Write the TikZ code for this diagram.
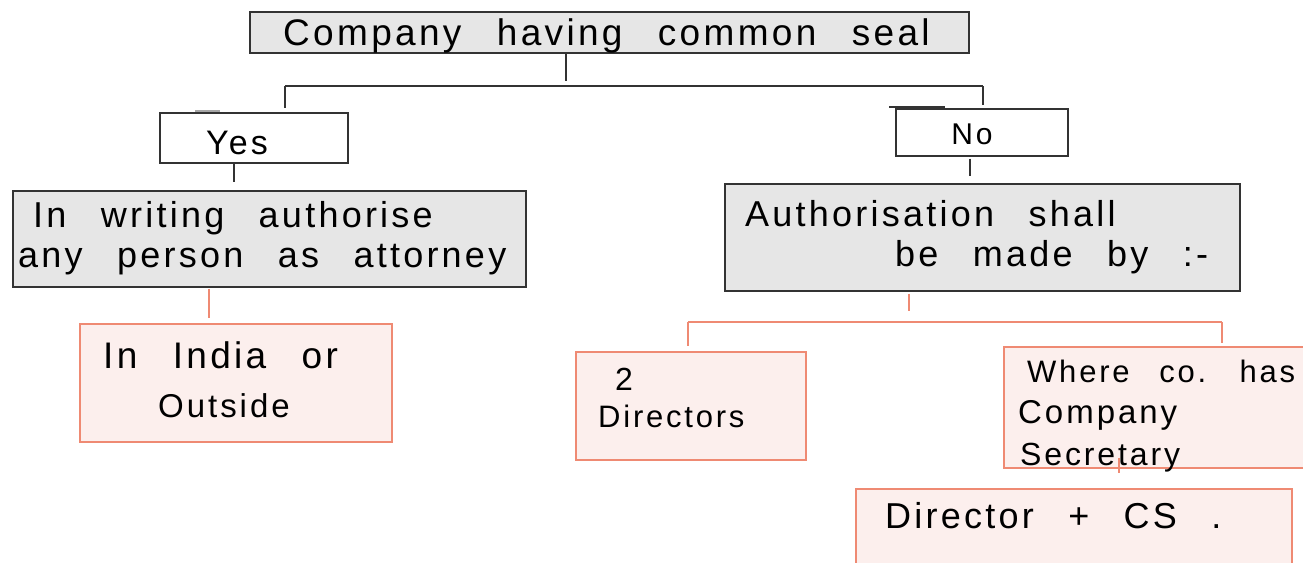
\documentclass[tikz,border=0pt]{standalone}
\usepackage{fontspec}
\setmainfont{Liberation Sans}[LetterSpace=9, WordSpace=2.6]
\definecolor{grayfill}{HTML}{E6E6E6}
\definecolor{boxline}{HTML}{333333}
\definecolor{pinkfill}{HTML}{FCEFED}
\definecolor{orangeline}{HTML}{EF8A73}
\tikzset{
  graybox/.style={draw=boxline, fill=grayfill, line width=1.6pt, inner sep=0pt, anchor=north west},
  whitebox/.style={draw=boxline, fill=white, line width=1.6pt, inner sep=0pt, anchor=north west},
  pinkbox/.style={draw=orangeline, fill=pinkfill, line width=1.7pt, inner sep=0pt, anchor=north west},
  conn/.style={draw=boxline, line width=1.6pt},
  oconn/.style={draw=orangeline, line width=1.7pt},
  txt/.style={anchor=base west, inner sep=0pt, text=black},
}
\newcommand{\fs}[1]{\fontsize{#1}{#1}\selectfont}
\begin{document}
\begin{tikzpicture}[x=1pt,y=-1pt]
\useasboundingbox (0,0) rectangle (1303,562);
% boxes
\node[graybox, minimum width=719pt, minimum height=41pt] (top) at (249,11) {};
\node[whitebox, minimum width=188pt, minimum height=50pt] (yes) at (159,112) {};
\node[whitebox, minimum width=172pt, minimum height=47pt] (no) at (895,108) {};
\node[graybox, minimum width=513pt, minimum height=96pt] (leftg) at (12,190) {};
\node[graybox, minimum width=515pt, minimum height=107pt] (rightg) at (724,183) {};
\node[pinkbox, minimum width=312pt, minimum height=118pt] (india) at (79,323) {};
\node[pinkbox, minimum width=230pt, minimum height=108pt] (dir2) at (575,351) {};
\node[pinkbox, minimum width=302pt, minimum height=121pt] (where) at (1003,346) {};
\node[pinkbox, minimum width=436pt, minimum height=80pt] (dcs) at (855,488) {};
% texts
\node[txt, font=\fs{37}] (t1) at (283,45) {Company having common seal};
\node[anchor=base, inner sep=0pt, font=\fs{34}] (t2) at (237,154) {Yes};
\node[anchor=base, inner sep=0pt, font=\fs{30}] (t3) at (972,144) {No};
\node[txt, font=\fs{36}] (t4a) at (33,227) {In writing authorise};
\node[txt, font=\fs{36}] (t4b) at (18,267) {any person as attorney};
\node[txt, font=\fs{36}] (t5a) at (745,226) {Authorisation shall};
\node[txt, font=\fs{36}] (t5b) at (895,266) {be made by :-};
\node[txt, font=\fs{37}] (t6a) at (103,368) {In India or};
\node[txt, font=\fs{33}] (t6b) at (158,417) {Outside};
\node[txt, font=\fs{32}] (t7a) at (615,390) {2};
\node[txt, font=\fs{31}] (t7b) at (598,427) {Directors};
\node[txt, font=\fs{31}] (t8a) at (1027,382) {Where co. has};
\node[txt, font=\fs{33}] (t8b) at (1018,423) {Company};
\node[txt, font=\fs{32}] (t8c) at (1020,465) {Secretary};
\node[txt, font=\fs{36}] (t9) at (885,528) {Director + CS .};
% black connectors
\coordinate (tA) at (566,81);
\coordinate (bL) at (285,86);
\coordinate (bR) at (983,86);
\draw[conn] (top.south -| tA) -- (tA);
\draw[conn] (bL) -- (bR);
\draw[conn] (bL) -- ([yshift=4pt]yes.north -| bL);
\draw[conn] (bR) -- ([yshift=3pt]no.north -| bR);
\coordinate (yA) at (234,182);
\draw[conn] (yes.south -| yA) -- (yA);
\coordinate (nA) at (970,176);
\draw[conn] ([yshift=-2pt]no.south -| nA) -- (nA);
% stray strokes on box tops
\coordinate (sy) at (208,111);
\draw[draw=gray!70, line width=1.2pt] ([xshift=-13pt]sy) -- ([xshift=12pt]sy);
\coordinate (sn) at (917,107);
\draw[draw=boxline, line width=1.2pt] ([xshift=-28pt]sn) -- ([xshift=28pt]sn);
% orange connectors
\coordinate (iA) at (209,318);
\draw[oconn] ([yshift=-1pt]leftg.south -| iA) -- (iA);
\coordinate (rA) at (909,311);
\draw[oconn] ([yshift=-2pt]rightg.south -| rA) -- (rA);
\coordinate (oL) at (688,322);
\coordinate (oR) at (1222,322);
\draw[oconn] (oL) -- (oR);
\draw[oconn] (oL) -- ([yshift=5pt]dir2.north -| oL);
\draw[oconn] (oR) -- ([yshift=3pt]where.north -| oR);
\coordinate (wA) at (1119,473);
\draw[oconn] ([yshift=11pt]where.south -| wA) -- (wA);
\end{tikzpicture}
\end{document}
